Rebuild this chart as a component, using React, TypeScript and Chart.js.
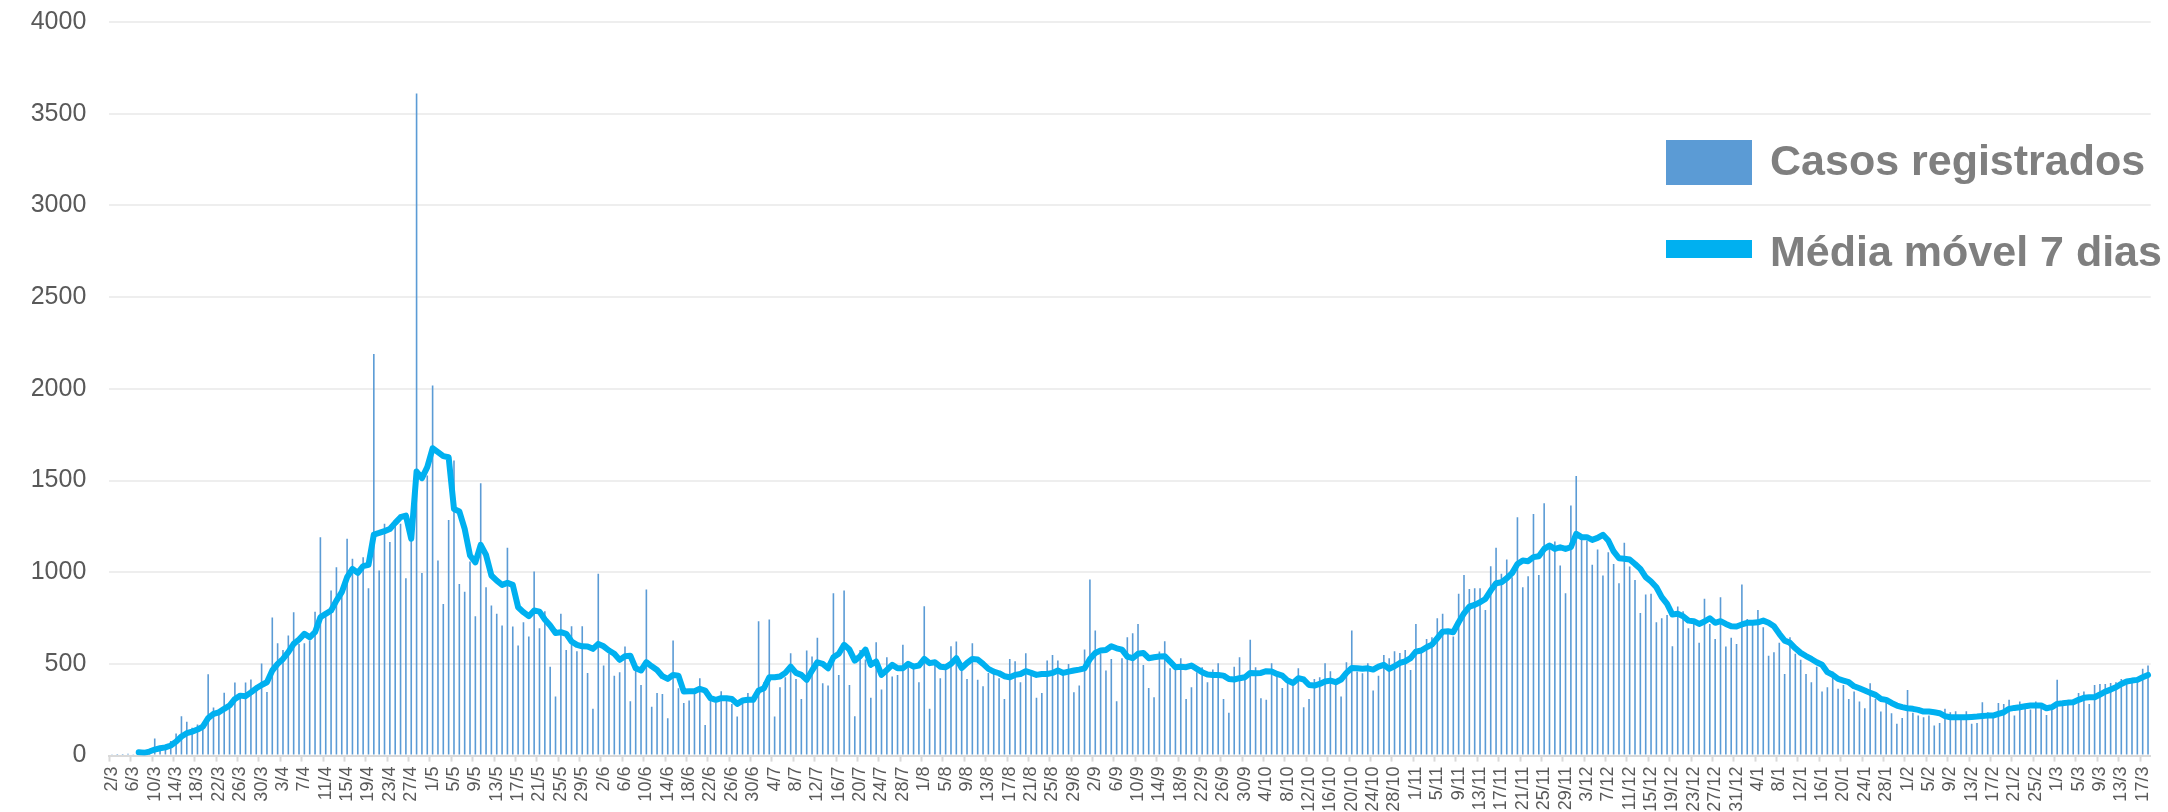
import React, { useEffect, useRef } from "react";
import { Chart, registerables } from "chart.js";

Chart.register(...registerables);

const START_DATE = [2020, 2, 2];
const DAY_COUNT = 382;
const LABEL_STEP = 4;

const SERIES_BARS = "Casos registrados";
const SERIES_LINE = "Média móvel 7 dias";

const CASES = [
  5, 3, 3, 10, 5, 15, 25, 20, 93, 50,
  55, 80, 120, 215, 185, 152, 170, 155, 443, 262,
  236, 343, 264, 398, 330, 398, 415, 382, 502, 347,
  753, 613, 576, 655, 782, 610, 613, 627, 785, 1191,
  773, 900, 1027, 900, 1182, 1073, 1009, 1082, 913, 2190,
  1009, 1264, 1164, 1255, 1264, 967, 1191, 3610, 996, 1527,
  2018, 1064, 827, 1284, 1609, 936, 894, 1058, 760, 1485,
  918, 818, 773, 709, 1133, 704, 600, 727, 649, 1004,
  695, 787, 485, 322, 773, 576, 705, 569, 705, 451,
  255, 991, 491, 555, 436, 455, 595, 296, 464, 385,
  905, 267, 342, 336, 204, 627, 367, 287, 300, 336,
  422, 167, 309, 291, 351, 309, 282, 213, 291, 342,
  309, 733, 400, 742, 213, 373, 427, 558, 418, 309,
  573, 540, 642, 395, 382, 885, 440, 900, 385, 215,
  576, 524, 315, 618, 360, 536, 431, 440, 605, 482,
  473, 400, 814, 255, 500, 422, 473, 596, 622, 473,
  418, 613, 413, 378, 451, 445, 422, 309, 527, 514,
  400, 558, 440, 315, 342, 518, 549, 518, 455, 500,
  345, 382, 578, 960, 682, 555, 464, 527, 296, 531,
  645, 667, 718, 494, 369, 318, 567, 624, 476, 473,
  531, 309, 373, 455, 482, 400, 469, 504, 309, 233,
  485, 536, 427, 631, 482, 313, 304, 504, 440, 369,
  409, 400, 476, 264, 309, 418, 427, 504, 460, 400,
  322, 509, 682, 458, 449, 504, 355, 436, 549, 531,
  569, 560, 576, 467, 718, 573, 636, 645, 749, 773,
  682, 649, 882, 985, 909, 913, 913, 794, 1033, 1133,
  991, 1069, 973, 1300, 918, 978, 1318, 985, 1376, 1127,
  1167, 1036, 885, 1364, 1524, 1182, 1173, 1040, 1124, 982,
  1109, 1045, 940, 1160, 1031, 958, 778, 878, 882, 727,
  749, 767, 596, 813, 787, 695, 718, 615, 855, 718,
  636, 864, 595, 642, 609, 933, 745, 727, 794, 700,
  545, 564, 615, 445, 645, 555, 522, 445, 400, 485,
  349, 373, 458, 364, 385, 309, 349, 295, 258, 395,
  309, 240, 291, 231, 173, 205, 358, 233, 218, 209,
  218, 164, 178, 255, 236, 242, 218, 242, 173, 178,
  291, 236, 218, 287, 282, 305, 218, 295, 273, 251,
  295, 273, 222, 264, 413, 282, 282, 285, 342, 349,
  282, 385, 391, 391, 396, 400, 418, 400, 400, 409,
  473, 491,
];

const MOVING_AVG = [
  null, null, null, null, null, 18, 15, 22, 33, 40,
  45, 55, 76, 104, 122, 131, 142, 158, 204, 227,
  236, 255, 273, 309, 327, 324, 345, 367, 385, 400,
  464, 500, 527, 564, 609, 633, 664, 645, 673, 754,
  773, 791, 845, 891, 973, 1018, 996, 1033, 1040, 1205,
  1214, 1224, 1236, 1269, 1300, 1309, 1182, 1549, 1513, 1573,
  1676, 1655, 1633, 1627, 1345, 1331, 1236, 1091, 1054, 1149,
  1094, 982, 954, 931, 942, 931, 809, 782, 760, 791,
  785, 742, 709, 669, 673, 664, 622, 604, 596, 595,
  582, 609, 596, 573, 555, 522, 542, 545, 476, 464,
  509, 487, 467, 433, 418, 440, 436, 349, 351, 351,
  364, 355, 313, 304, 313, 313, 309, 282, 300, 304,
  304, 355, 367, 427, 427, 431, 451, 485, 451, 440,
  413, 464, 509, 500, 476, 536, 555, 604, 578, 518,
  542, 578, 495, 513, 440, 467, 495, 476, 476, 500,
  485, 491, 527, 504, 509, 485, 482, 500, 531, 478,
  505, 527, 524, 500, 473, 458, 449, 433, 427, 440,
  445, 460, 451, 440, 445, 445, 451, 464, 451, 458,
  464, 469, 476, 527, 560, 573, 576, 596, 585, 578,
  540, 531, 555, 560, 531, 536, 540, 542, 513, 482,
  485, 482, 491, 473, 455, 442, 440, 440, 436, 418,
  415, 422, 427, 451, 449, 451, 460, 458, 445, 436,
  409, 396, 422, 415, 385, 382, 391, 404, 409, 400,
  415, 451, 478, 476, 473, 476, 469, 485, 495, 473,
  487, 505, 514, 531, 567, 573, 591, 605, 640, 676,
  678, 673, 727, 776, 812, 822, 836, 854, 900, 940,
  945, 967, 995, 1045, 1064, 1060, 1082, 1087, 1127, 1145,
  1127, 1136, 1127, 1136, 1209, 1191, 1191, 1176, 1187, 1204,
  1173, 1113, 1076, 1073, 1069, 1045, 1018, 973, 949, 918,
  864, 827, 769, 773, 760, 736, 733, 718, 731, 749,
  724, 733, 718, 705, 704, 715, 724, 724, 727, 736,
  724, 705, 664, 627, 615, 585, 560, 543, 527, 509,
  495, 455, 440, 418, 409, 400, 378, 367, 355, 342,
  331, 309, 304, 287, 273, 264, 258, 255, 249, 240,
  240, 236, 231, 215, 209, 209, 209, 209, 211, 213,
  216, 218, 218, 227, 236, 255, 260, 264, 269, 273,
  273, 273, 258, 264, 282, 285, 289, 291, 304, 315,
  318, 318, 333, 349, 360, 373, 391, 404, 409, 413,
  427, 440,
];

const Y_MIN = 0;
const Y_MAX = 4000;
const Y_STEP = 500;

function buildDayLabels(): string[] {
  const out: string[] = [];
  const d = new Date(START_DATE[0], START_DATE[1], START_DATE[2]);
  for (let i = 0; i < DAY_COUNT; i++) {
    out.push(`${d.getDate()}/${d.getMonth() + 1}`);
    d.setDate(d.getDate() + 1);
  }
  return out;
}

const BAR_COLOR = "#5B9BD5";
const LINE_COLOR = "#00B0F0";
const AXIS_TEXT = "#595959";
const LEGEND_TEXT = "#7F7F7F";
const FONT = "'Liberation Sans', Arial, sans-serif";

const legendPlugin = {
  id: "insideLegend",
  afterDraw(chart: any) {
    const ctx = chart.ctx;
    const ds = chart.data.datasets;
    const bars = ds.find((d: any) => d.type === "bar");
    const line = ds.find((d: any) => d.type === "line");
    const x = 1666;
    const w = 86;
    const textX = 1770;
    ctx.save();
    ctx.font = `bold 43px ${FONT}`;
    ctx.textBaseline = "alphabetic";
    ctx.textAlign = "left";
    ctx.fillStyle = bars.backgroundColor;
    ctx.fillRect(x, 140, w, 45);
    ctx.fillStyle = LEGEND_TEXT;
    ctx.fillText(bars.label, textX, 175);
    ctx.fillStyle = line.borderColor;
    ctx.fillRect(x, 240, w, 18);
    ctx.fillStyle = LEGEND_TEXT;
    ctx.fillText(line.label, textX, 266);
    ctx.restore();
  },
};

export default function App() {
  const ref = useRef<HTMLCanvasElement | null>(null);
  useEffect(() => {
    if (!ref.current) return;
    const labels = buildDayLabels();
    const chart = new Chart(ref.current, {
      type: "bar",
      data: {
        labels,
        datasets: [
          {
            type: "line",
            label: SERIES_LINE,
            data: MOVING_AVG,
            borderColor: LINE_COLOR,
            backgroundColor: LINE_COLOR,
            borderWidth: 6,
            pointRadius: 0,
            tension: 0,
            borderJoinStyle: "round",
            borderCapStyle: "round",
            order: 0,
          } as any,
          {
            type: "bar",
            label: SERIES_BARS,
            data: CASES,
            backgroundColor: BAR_COLOR,
            barPercentage: 0.3,
            categoryPercentage: 1,
            order: 1,
          } as any,
        ],
      },
      options: {
        responsive: false,
        animation: false,
        layout: { padding: { top: 22, right: 17.3, left: 0, bottom: 0 } },
        plugins: { legend: { display: false }, tooltip: { enabled: false } },
        scales: {
          x: {
            type: "category",
            offset: true,
            grid: {
              display: true,
              offset: true,
              drawOnChartArea: false,
              drawTicks: true,
              tickLength: 6,
              tickWidth: 2,
              tickColor: (c: any) => (c.index % LABEL_STEP === 0 ? "#D9D9D9" : "rgba(0,0,0,0)"),
            },
            border: { display: true, color: "#D9D9D9", width: 2 },
            ticks: {
              autoSkip: false,
              maxRotation: 90,
              minRotation: 90,
              padding: 5,
              color: AXIS_TEXT,
              font: { family: FONT, size: 18 },
              callback: (_v: any, i: number) => (i % LABEL_STEP === 0 ? labels[i] : ""),
            },
            afterFit: (s: any) => {
              s.height = 56.4;
              s.paddingLeft = 0;
              s.paddingRight = 0;
            },
          },
          y: {
            min: Y_MIN,
            max: Y_MAX,
            ticks: {
              stepSize: Y_STEP,
              padding: 23,
              color: AXIS_TEXT,
              font: { family: FONT, size: 25 },
              callback: (v: any) => String(v),
            },
            grid: {
              drawTicks: false,
              lineWidth: 2,
              color: (c: any) => (c.tick && c.tick.value === 0 ? "rgba(0,0,0,0)" : "#EEEEEE"),
            },
            border: { display: false },
            afterFit: (s: any) => {
              s.width = 109.3;
              s.paddingTop = 0;
              s.paddingBottom = 0;
            },
          },
        },
      },
      plugins: [legendPlugin],
    });
    return () => chart.destroy();
  }, []);

  return (
    <div style={{ position: "fixed", left: 0, top: 0, width: 2168, height: 812, overflow: "hidden", background: "#fff" }}>
      <canvas ref={ref} width={2168} height={812} style={{ display: "block", width: 2168, height: 812 }} />
    </div>
  );
}
